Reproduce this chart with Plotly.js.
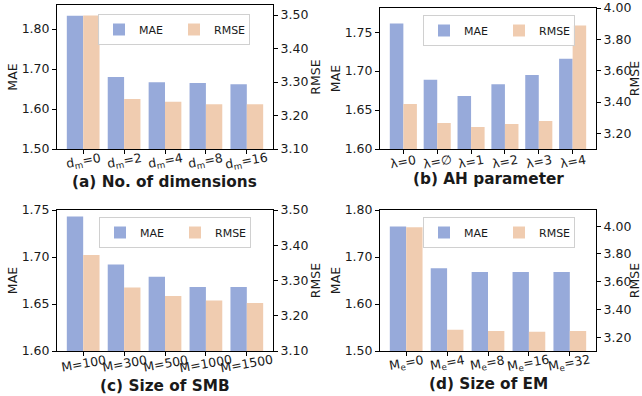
<!DOCTYPE html>
<html>
<head>
<meta charset="utf-8">
<script src="https://cdn.plot.ly/plotly-3.0.1.min.js"></script>
<style>html,body{margin:0;padding:0;background:#fff;}#chart{width:642px;height:396px;}</style>
</head>
<body>
<div id="chart"></div>
<script>
// ---- data ----
const catsA = ["d<sub>m</sub>=0","d<sub>m</sub>=2","d<sub>m</sub>=4","d<sub>m</sub>=8","d<sub>m</sub>=16"];
const maeA  = [1.833, 1.680, 1.667, 1.665, 1.662];
const rmseA = [3.499, 3.249, 3.241, 3.234, 3.234];

const catsB = ["λ=0","λ=∅","λ=1","λ=2","λ=3","λ=4"];
const maeB  = [1.761, 1.689, 1.668, 1.683, 1.695, 1.716];
const rmseB = [3.388, 3.266, 3.240, 3.260, 3.279, 3.889];

const catsC = ["M=100","M=300","M=500","M=1000","M=1500"];
const maeC  = [1.743, 1.692, 1.679, 1.668, 1.668];
const rmseC = [3.372, 3.280, 3.256, 3.243, 3.236];

const catsD = ["M<sub>e</sub>=0","M<sub>e</sub>=4","M<sub>e</sub>=8","M<sub>e</sub>=16","M<sub>e</sub>=32"];
const maeD  = [1.765, 1.676, 1.668, 1.668, 1.668];
const rmseD = [3.993, 3.253, 3.245, 3.239, 3.245];

const panelTitles = ["(a) No. of dimensions","(b) AH parameter","(c) Size of SMB","(d) Size of EM"];

// ---- style ----
const W = 642, H = 396;
const BLUE = "rgb(151,170,218)", PEACH = "rgb(240,204,176)";
const FONT = "DejaVu Sans";
const TXT = "#1a1a1a";
const FS = 12.5, FT = 12.5, FL = 11;
const px = v => v / W, py = v => 1 - v / H;

const panels = [
  {cats: catsA, mae: maeA, rmse: rmseA, box: [57, 273, 5, 149], maeR: [1.5, 1.86], maeT: [1.5,1.6,1.7,1.8], rR: [3.1, 3.53], rT: [3.1,3.2,3.3,3.4,3.5], leg: [98, 14], title: [165, 182]},
  {cats: catsB, mae: maeB, rmse: rmseB, box: [380, 596, 8, 149], maeR: [1.6, 1.781], maeT: [1.6,1.65,1.7,1.75], rR: [3.1, 4.0], rT: [3.2,3.4,3.6,3.8,4.0], leg: [423, 15], title: [488, 179]},
  {cats: catsC, mae: maeC, rmse: rmseC, box: [57, 273, 210, 351], maeR: [1.6, 1.75], maeT: [1.6,1.65,1.7,1.75], rR: [3.1, 3.5], rT: [3.1,3.2,3.3,3.4,3.5], leg: [99, 217], title: [165, 386]},
  {cats: catsD, mae: maeD, rmse: rmseD, box: [380, 596, 210, 351], maeR: [1.5, 1.8], maeT: [1.5,1.6,1.7,1.8], rR: [3.1, 4.117], rT: [3.2,3.4,3.6,3.8,4.0], leg: [423, 217], title: [488, 384]}
];

const traces = [];
const layout = {
  width: W, height: H,
  margin: {l: 0, r: 0, t: 0, b: 0},
  paper_bgcolor: "#fff", plot_bgcolor: "#fff",
  font: {family: FONT, size: FS, color: TXT},
  barmode: "overlay",
  annotations: []
};

panels.forEach((p, i) => {
  const n = i + 1;
  const xa = n === 1 ? "x" : "x" + n;
  const ya = n === 1 ? "y" : "y" + n;
  const ya2 = "y" + (n + 4);
  const legName = n === 1 ? "legend" : "legend" + n;
  const xs = p.cats.map((_, k) => k);
  traces.push({
    type: "bar", x: xs, y: p.mae, name: "MAE", xaxis: xa, yaxis: ya,
    width: 0.4, offset: -0.4, marker: {color: BLUE, line: {width: 0}},
    legend: legName, hoverinfo: "skip"
  });
  traces.push({
    type: "bar", x: xs, y: p.rmse, name: "RMSE", xaxis: xa, yaxis: ya2,
    width: 0.4, offset: 0, marker: {color: PEACH, line: {width: 0}},
    legend: legName, hoverinfo: "skip"
  });
  const nc = p.cats.length;
  const ext = nc - 1 + 0.8, m = 0.05 * ext;
  const [x0, x1, y0, y1] = p.box;
  layout["xaxis" + (n === 1 ? "" : n)] = {
    domain: [px(x0), px(x1)], anchor: ya,
    range: [-0.4 - m, nc - 1 + 0.4 + m],
    tickmode: "array", tickvals: xs, ticktext: p.cats, showticklabels: false,
    ticks: "outside", ticklen: 4, tickwidth: 1, tickcolor: "#000",
    showline: true, mirror: true, linecolor: "#000", linewidth: 1,
    showgrid: false, zeroline: false, fixedrange: true
  };
  layout["yaxis" + (n === 1 ? "" : n)] = {
    domain: [py(y1), py(y0)], anchor: xa,
    range: p.maeR, tickmode: "array", tickvals: p.maeT, tickformat: ".2f",
    ticks: "outside", ticklen: 4, tickwidth: 1, tickcolor: "#000",
    showline: true, linecolor: "#000", linewidth: 1,
    showgrid: false, zeroline: false,
    tickfont: {family: FONT, size: FS, color: TXT},
    title: {text: "MAE", font: {family: FONT, size: FT, color: TXT}, standoff: 1}, fixedrange: true
  };
  layout["yaxis" + (n + 4)] = {
    overlaying: ya, side: "right", anchor: xa,
    range: p.rR, tickmode: "array", tickvals: p.rT, tickformat: ".2f",
    ticks: "outside", ticklen: 4, tickwidth: 1, tickcolor: "#000",
    showline: true, linecolor: "#000", linewidth: 1,
    showgrid: false, zeroline: false,
    tickfont: {family: FONT, size: FS, color: TXT},
    title: {text: "RMSE", font: {family: FONT, size: FT, color: TXT}, standoff: 1}, fixedrange: true
  };
  layout[legName] = {
    x: px(p.leg[0]), y: py(p.leg[1]), xanchor: "left", yanchor: "top",
    orientation: "h", bgcolor: "rgba(255,255,255,0.85)",
    bordercolor: "#d0d0d0", borderwidth: 1,
    font: {family: FONT, size: FL, color: TXT},
    entrywidth: 30, entrywidthmode: "pixels", itemwidth: 30,
    traceorder: "normal"
  };
  // rotated category labels, centred on each tick
  p.cats.forEach((c, k) => {
    layout.annotations.push({
      xref: xa, yref: "paper", x: k, y: py(y1 + 12),
      xanchor: "center", yanchor: "middle", showarrow: false,
      text: c, textangle: -10,
      font: {family: FONT, size: FS, color: TXT}
    });
  });
  layout.annotations.push({
    xref: "paper", yref: "paper", x: px(p.title[0]), y: py(p.title[1]),
    xanchor: "center", yanchor: "middle", showarrow: false,
    text: "<b>" + panelTitles[i] + "</b>",
    font: {family: FONT, size: 15.3, color: TXT}
  });
});

Plotly.newPlot("chart", traces, layout, {staticPlot: true, displayModeBar: false});
</script>
</body>
</html>
